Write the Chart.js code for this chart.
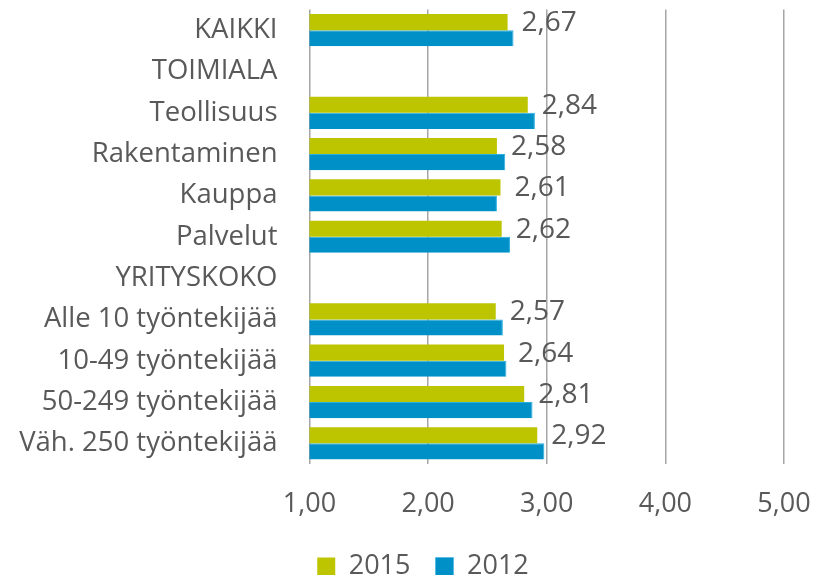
<!DOCTYPE html>
<html>
<head>
<meta charset="utf-8">
<script src="https://cdn.jsdelivr.net/npm/chart.js@4/dist/chart.umd.min.js"></script>
<style>
  html, body { margin: 0; padding: 0; background: #fff; }
  #wrap { width: 813px; height: 575px; }
</style>
</head>
<body>
<div id="wrap"><canvas id="myChart" width="813" height="575"></canvas></div>
<script>
var categories = ['KAIKKI', 'TOIMIALA', 'Teollisuus', 'Rakentaminen', 'Kauppa', 'Palvelut',
  'YRITYSKOKO', 'Alle 10 työntekijää', '10-49 työntekijää', '50-249 työntekijää', 'Väh. 250 työntekijää'];
var values2015 = [2.67, null, 2.84, 2.58, 2.61, 2.62, null, 2.57, 2.64, 2.81, 2.92];
var values2012 = [2.72, null, 2.90, 2.65, 2.58, 2.69, null, 2.63, 2.66, 2.88, 2.98];
var xTicks = [1, 2, 3, 4, 5];

var textGrey = '#595959';
var fontFam = "'Open Sans', sans-serif";

function fmt(v) {
  return v.toFixed(2).replace('.', ',');
}

// keep the plot area where we want it, no extra room for edge labels
function noPadding(s) {
  s.paddingLeft = 0;
  s.paddingRight = 0;
  s.paddingTop = 0;
  s.paddingBottom = 0;
}

// value labels next to the 2015 bars
var barLabels = {
  id: 'barLabels',
  afterDatasetsDraw: function (chart) {
    var ctx = chart.ctx;
    var meta = chart.getDatasetMeta(0);
    ctx.save();
    ctx.font = '28px ' + fontFam;
    ctx.fillStyle = textGrey;
    ctx.textAlign = 'left';
    ctx.textBaseline = 'middle';
    meta.data.forEach(function (el, i) {
      var v = values2015[i];
      if (v == null) return;
      ctx.fillText(fmt(v), el.x + 14, el.y + 1);
    });
    ctx.restore();
  }
};

// nudge the legend a bit to the right of the canvas centre
var legendShift = {
  id: 'legendShift',
  afterLayout: function (chart) {
    if (!chart.legend) return;
    chart.legend.left += 31;
    chart.legend.right += 31;
  }
};

var ctx = document.getElementById('myChart').getContext('2d');
var myChart = new Chart(ctx, {
  type: 'bar',
  data: {
    labels: categories,
    datasets: [{
      label: '2015',
      data: values2015,
      backgroundColor: '#bcc500',
      borderWidth: 0
    }, {
      label: '2012',
      data: values2012,
      backgroundColor: '#0090c8',
      borderColor: '#2aaee0',
      borderWidth: { top: 1, right: 1, bottom: 0, left: 0 }
    }]
  },
  options: {
    indexAxis: 'y',
    responsive: false,
    animation: false,
    categoryPercentage: 0.78,
    barPercentage: 1,
    layout: { padding: { top: 9.5, right: 29, left: 0, bottom: -15 } },
    scales: {
      x: {
        min: 1,
        max: 5,
        afterBuildTicks: function (s) {
          s.ticks = xTicks.map(function (v) { return { value: v }; });
        },
        afterFit: function (s) { s.height = 64; noPadding(s); },
        grid: { color: '#a6a6a6', lineWidth: 1.5, drawTicks: false },
        border: { display: false },
        ticks: {
          padding: 24,
          color: textGrey,
          font: { family: fontFam, size: 27 },
          callback: function (v) { return fmt(v); }
        }
      },
      y: {
        afterFit: function (s) { s.width = 309.5; noPadding(s); },
        grid: { display: false, drawTicks: false },
        border: { display: false },
        ticks: {
          padding: 32,
          color: textGrey,
          font: { family: fontFam, size: 27.5 }
        }
      }
    },
    plugins: {
      legend: {
        position: 'bottom',
        labels: {
          boxWidth: 18,
          boxHeight: 18,
          padding: 25,
          color: textGrey,
          font: { family: fontFam, size: 27 }
        }
      },
      tooltip: { enabled: false }
    }
  },
  plugins: [barLabels, legendShift]
});
</script>
</body>
</html>
